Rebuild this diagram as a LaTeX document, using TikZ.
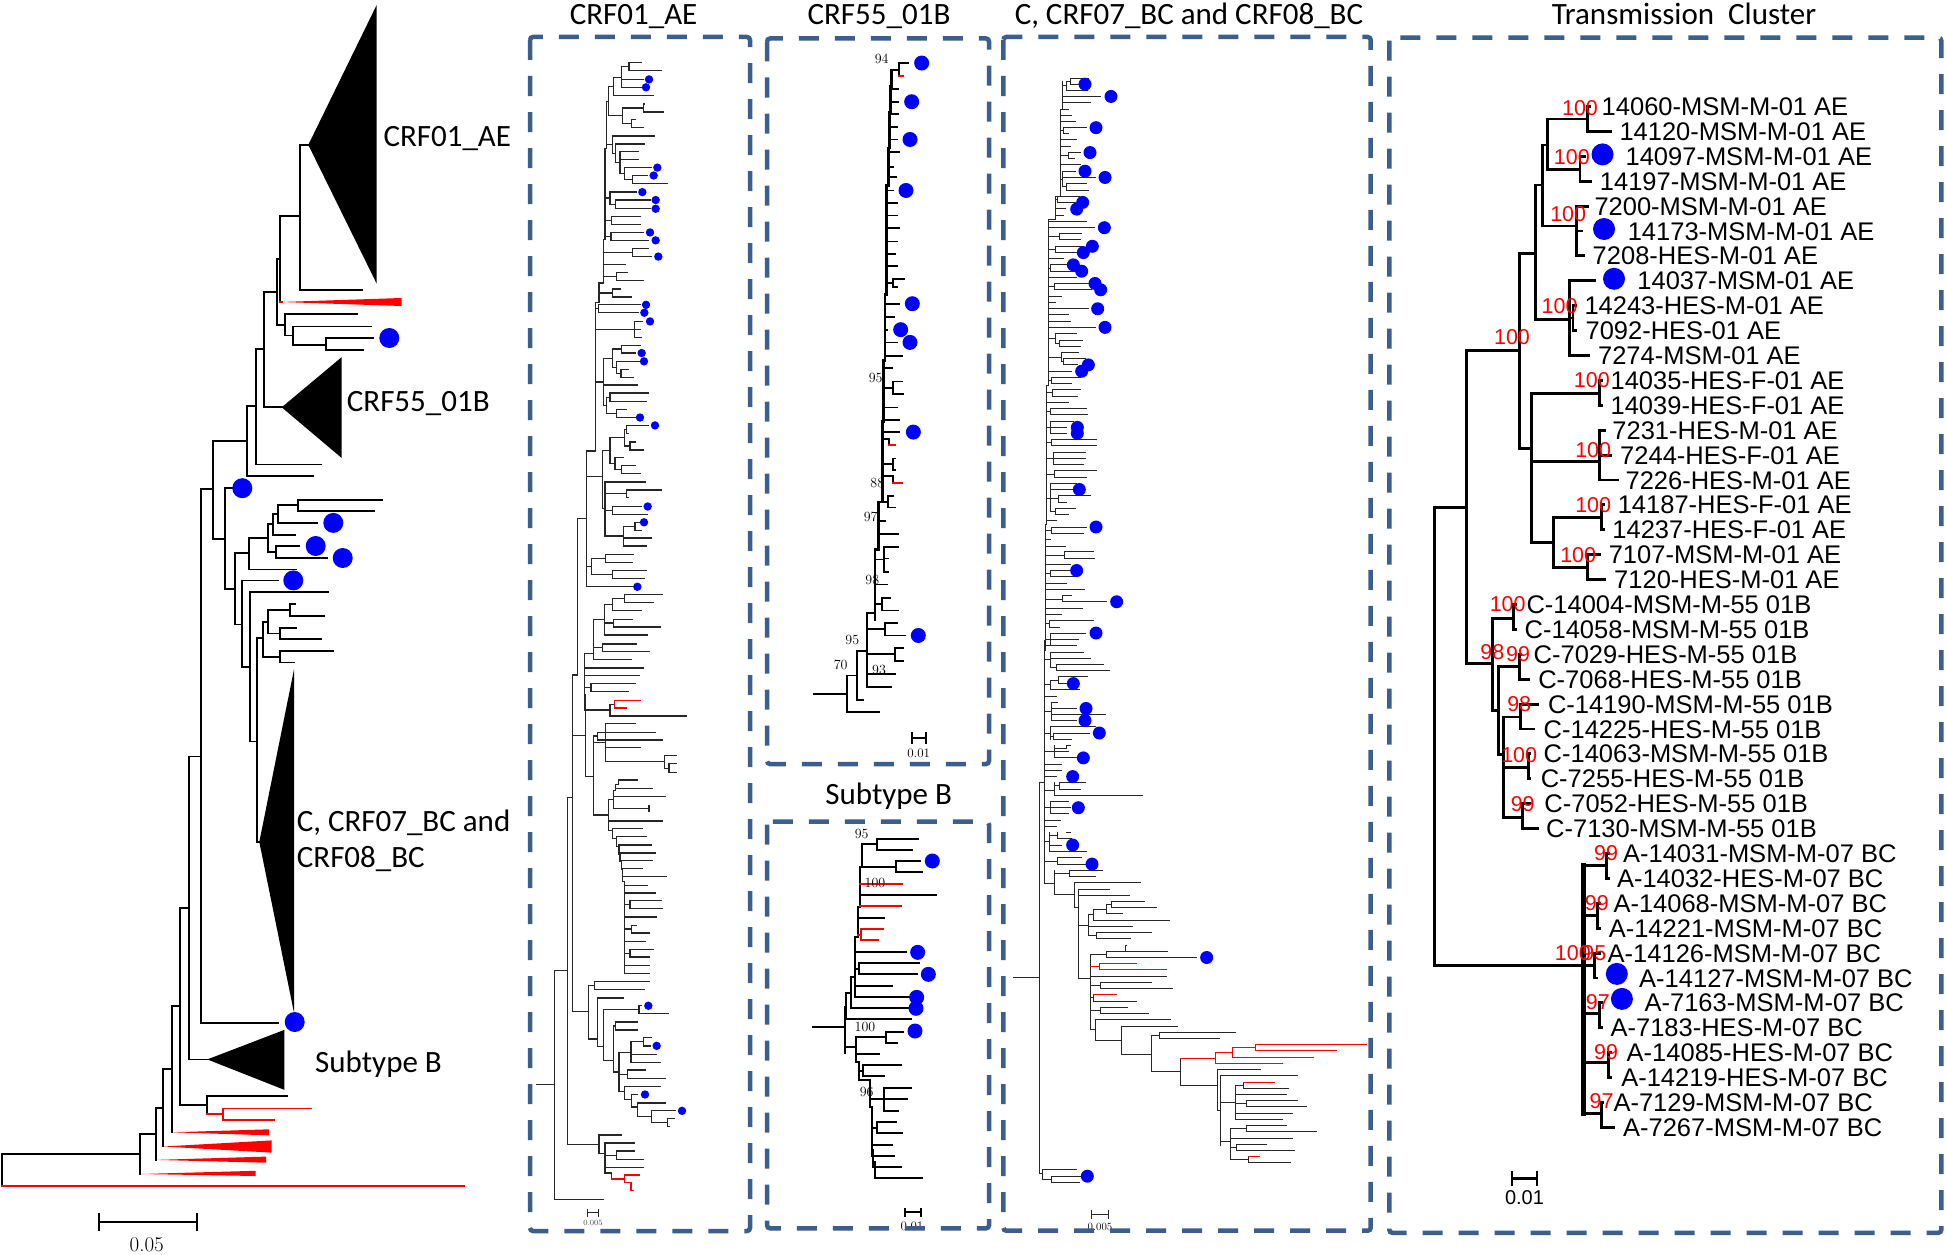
\documentclass[tikz,border=0pt]{standalone}
\usepackage{fontspec}
\newfontfamily\cali{Carlito}
\newfontfamily\ari{Liberation Sans}
\definecolor{boxc}{RGB}{59,94,140}
\definecolor{dotc}{RGB}{0,0,255}
\definecolor{redc}{RGB}{255,0,0}
\newcommand\hsegs[1]{\foreach \yy/\xa/\xb in {#1}{\draw (\xa,\yy) -- (\xb,\yy);}}
\newcommand\vsegs[1]{\foreach \xx/\ya/\yb in {#1}{\draw (\xx,\ya) -- (\xx,\yb);}}
\newcommand\bdots[2]{\foreach \xx/\yy in {#2}{\fill[dotc] (\xx,\yy) circle[radius=#1];}}
\tikzset{
  dbox/.style={draw=boxc, line width=4.5pt, dash pattern=on 20pt off 16pt, rounded corners=3pt},
  ttl/.style={anchor=base, inner sep=0pt, font=\cali\fontsize{31}{31}\selectfont},
  ttlw/.style={anchor=base west, inner sep=0pt, font=\cali\fontsize{31}{31}\selectfont},
  lab/.style={anchor=base west, inner sep=0pt, font=\ari\fontsize{25.5}{25.5}\selectfont},
  boot/.style={inner sep=0pt, text=redc, font=\ari\fontsize{21.5}{21.5}\selectfont},
  bs/.style={inner sep=0pt, font=\fontsize{14}{14}\selectfont},
  sclab/.style={inner sep=0pt, font=\fontsize{13}{13}\selectfont},
}
\begin{document}
\begin{tikzpicture}[x=1pt,y=-1pt]
\useasboundingbox (0,0) rectangle (1946,1255);
\fill[white] (0,0) rectangle (1946,1255);

%================ LEFT TREE =================
\begin{scope}[line width=1.8pt, line cap=rect]
\hsegs{144.9/300/308.3, 289.8/300/361.7, 216.3/280/300, 259.2/277.3/280, 291.8/264/277.3, 325.3/277.3/285, 314.3/285/356.7, 335.5/285/292.7, 326.5/292.7/370.7, 344.9/292.7/325.7, 338/325.7/373.3, 349.8/325.7/363.3, 407.3/264/281.7, 349/256/264, 464.5/256/320.7, 406/247.3/256, 476.3/247.3/312.7, 440.8/213.3/247.3, 488.6/200.7/213.3, 538.8/213.3/225, 488/225/232, 588.6/225/235, 553/235/249.3, 538/249.3/267.7, 523.7/267.7/273.3, 514.3/273.3/278.3, 505.3/278.3/297.7, 499.6/297.7/381.7, 511/297.7/374, 522.9/278.3/316.7, 534.7/273.3/295, 552.2/267.7/276, 546/276/299.3, 558/276/326.7, 569.4/249.3/295.7, 624.5/235/241.7, 580.4/241.7/277.7, 666.6/241.7/250, 591.8/250/327.7, 741.5/250/256.7, 638.2/256.7/263.3, 841.9/256.7/259.3, 622/263.3/268.3, 656.9/263.3/280, 610.2/268.3/290, 604/290/295, 616.3/290/324, 633.4/268.3/280, 627.9/280/295.7, 638.9/280/320.7, 651.2/280/332.7, 662.5/280/294, 756.5/189/200.7, 1022.8/200.7/278.3, 1059.4/189/207.3, 907.6/180/189, 1105.2/180/207.3, 1096.3/207.3/287.3, 1006/171.7/180, 1068.8/163.3/171.7, 1108/155.7/163.3, 1133.6/140/155.7, 1153.8/2.3/140, 1222.3/99/196.7}
\vsegs{300/144.9/289.8, 280/216.3/302, 277.3/259.2/325.3, 285/314.3/335.5, 292.7/326.5/344.9, 325.7/338/349.8, 264/291.8/407.3, 256/349/464.5, 247.3/406/476.3, 213.3/440.8/538.8, 200.7/488.6/1022.8, 225/488/588.6, 235/553/624.5, 249.3/538/569.4, 267.7/523.7/552.2, 273.3/514.3/534.7, 278.3/505.3/522.9, 297.7/499.6/511, 276/546/558, 241.7/580.4/666.6, 250/591.8/741.5, 256.7/638.2/841.9, 263.3/622/656.9, 268.3/610.2/633.4, 290/604/616.3, 280/627.9/638.9, 280/651.2/662.5, 189/756.5/1059.4, 180/907.6/1105.2, 207.3/1096.3/1114.1, 171.7/1006/1132.3, 163.3/1068.8/1146.5, 155.7/1108/1159.9, 140/1133.6/1174, 2.3/1153.8/1185.8, 99/1214/1230, 196.7/1214/1230}
\begin{scope}[draw=redc]
\hsegs{1114.1/207.3/223.3, 1108.4/223.3/310.7, 1120.2/223.3/274.3, 1185.8/2.3/464.3, 302/280/282}
\vsegs{223.3/1108.4/1120.2}
\end{scope}
\end{scope}
\fill (308.3,144.9) -- (376.7,4.9) -- (376.7,283.7) -- cycle;
\fill (281.7,407.3) -- (341.7,357.1) -- (341.7,458) -- cycle;
\fill (259.3,841.9) -- (294,669.4) -- (294,1012.7) -- cycle;
\fill (207.3,1059.4) -- (284.3,1029.9) -- (284.3,1089.8) -- cycle;
\fill[redc] (281,302) -- (401.7,298) -- (401.7,306) -- cycle;
\fill[redc] (171.7,1132.3) -- (269,1129.3) -- (269,1135.3) -- cycle;
\fill[redc] (163.3,1146.5) -- (271.7,1140.4) -- (271.7,1152.6) -- cycle;
\fill[redc] (155.7,1159.9) -- (266,1156.6) -- (266,1162.7) -- cycle;
\fill[redc] (140,1174) -- (255.7,1170.8) -- (255.7,1176) -- cycle;
\bdots{10pt}{389.3/338, 242.3/488.2, 333.3/522.9, 315.7/546, 342.7/558, 293.3/580.4, 294.7/1022}
\node[ttlw] (G1) at (383.3,146.9) {CRF01\_AE};
\node[ttlw] (G2) at (346.7,411.4) {CRF55\_01B};
\node[ttlw] (G3) at (296.7,831.4) {C, CRF07\_BC and};
\node[ttlw] (G4) at (296.7,867.9) {CRF08\_BC};
\node[ttlw] (G5) at (315,1072.8) {Subtype B};
\node[inner sep=0pt, font=\fontsize{21}{21}\selectfont] (G6) at (146.7,1245) {0.05};

%================ CRF01_AE PANEL =================
\begin{scope}[shift={(525,30)}, x=0.33333pt, y=-0.39541pt, line width=1.3pt, line cap=rect, draw=black!85]
\hsegs{83/312/348, 103/312/408, 93/290/312, 125/290/355, 145/290/350, 120/265/290, 165/265/385, 143/250/265, 187/355/358, 207/355/415, 197/292/355, 227/320/330, 247/320/355, 237/292/320, 217/250/292, 180/245/250, 268/262/388, 288/272/358, 308/285/340, 328/285/340, 348/298/378, 368/323/368, 388/323/428, 378/298/323, 363/285/298, 335/272/285, 312/262/272, 290/245/262, 410/255/335, 430/272/375, 452/272/375, 441/255/272, 425/240/255, 472/260/345, 492/260/345, 482/240/260, 512/258/355, 532/258/370, 522/240/258, 552/322/370, 573/322/380, 562/235/322, 593/235/302, 613/275/308, 633/275/355, 623/235/275, 655/262/285, 675/262/318, 665/222/262, 695/220/345, 715/220/340, 705/212/220, 737/328/352, 757/328/345, 777/328/348, 757/212/328, 797/290/345, 817/290/330, 807/262/290, 838/275/345, 858/288/310, 878/288/325, 868/275/288, 853/262/275, 830/235/262, 898/235/338, 918/255/370, 940/255/365, 929/245/255, 960/275/305, 980/275/330, 970/245/275, 950/235/245, 890/212/235, 1000/305/370, 1020/305/310, 1010/298/305, 1042/315/330, 1062/315/355, 1052/298/315, 1031/255/298, 1082/270/295, 1102/290/332, 1122/290/345, 1112/270/290, 1097/255/270, 1064/232/255, 1143/240/362, 1163/305/410, 1183/305/310, 1173/240/305, 1205/262/350, 1225/262/368, 1215/240/262, 1245/330/345, 1265/330/348, 1255/295/330, 1285/295/380, 1305/295/365, 1280/240/295, 1210/232/240, 1130/185/232, 1065/185/212, 1327/242/325, 1347/242/322, 1337/200/242, 1367/262/365, 1387/262/358, 1377/200/262, 1357/185/200, 1408/185/325, 1235/158/185, 1428/298/412, 1448/298/385, 1438/262/298, 1468/262/348, 1453/238/262, 1490/265/322, 1510/265/405, 1500/238/265, 1530/238/368, 1490/205/238, 300/240/245, 530/235/240, 640/222/235, 690/212/222}
\vsegs{312/83/103, 290/93/145, 265/120/165, 355/187/207, 320/227/247, 292/197/237, 250/143/217, 323/368/388, 298/348/378, 285/308/363, 272/288/335, 262/268/312, 272/430/452, 255/410/441, 260/472/492, 258/512/532, 322/552/573, 275/613/633, 262/655/675, 220/695/715, 328/737/777, 290/797/817, 288/858/878, 275/838/868, 262/807/853, 255/918/940, 275/960/980, 245/929/970, 235/830/950, 305/1000/1020, 315/1042/1062, 298/1010/1052, 290/1102/1122, 270/1082/1112, 255/1031/1097, 232/1064/1210, 305/1163/1183, 262/1205/1225, 330/1245/1265, 295/1255/1305, 240/1143/1280, 242/1327/1347, 262/1367/1387, 200/1337/1377, 298/1428/1448, 262/1438/1468, 265/1490/1510, 238/1453/1530, 245/180/300, 240/300/530, 235/530/640, 222/640/690, 212/690/1065, 185/1065/1408, 158/1235/1568, 205/1490/1568}
\bdots{4.2pt}{372/125, 363/145, 397/348, 386/368, 352/410, 392/430, 392/452, 375/512, 392/532, 400/573, 363/695, 358/715, 375/737, 350/817, 357/838, 345/980, 390/1000, 368/1205, 357/1245, 337/1408}
\end{scope}
\begin{scope}[shift={(525,640)}, x=0.33333pt, y=-0.38911pt, line width=1.3pt, line cap=rect, draw=black!85]
\hsegs{10/232/335, 30/232/372, 20/205/232, 50/205/318, 35/178/205, 72/178/355, 92/178/342, 112/198/330, 133/198/310, 122/178/198, 165/255/268, 195/255/485, 180/178/255, 140/178/182, 215/242/330, 237/218/392, 257/218/412, 247/205/218, 277/242/345, 313/242/418, 264/205/242, 297/418/455, 330/418/432, 318/432/455, 340/432/455, 350/182/205, 245/143/182, 90/143/158, 405/128/143, 360/280/338, 382/272/382, 371/272/280, 402/265/422, 386/265/272, 433/265/372, 410/250/265, 465/250/412, 450/205/250, 485/262/352, 505/275/365, 527/282/378, 547/285/392, 567/290/382, 588/292/352, 608/292/424, 630/298/368, 650/298/392, 670/315/410, 690/315/412, 680/298/315, 712/298/395, 733/320/335, 753/320/372, 743/298/320, 775/298/362, 795/315/385, 815/315/372, 805/298/315, 837/298/372, 857/298/372, 490/250/262, 510/262/275, 530/275/282, 550/282/285, 570/285/290, 590/290/292, 620/292/298, 955/143/190, 888/190/208, 878/208/372, 898/208/358, 920/218/295, 1025/190/218, 1045/218/235, 950/235/342, 940/342/350, 960/342/430, 1080/235/265, 992/265/272, 982/272/338, 1002/272/338, 1110/265/282, 1060/282/318, 1032/318/355, 1022/355/380, 1043/355/375, 1065/318/395, 1085/318/405, 1116/282/308, 1105/308/360, 1127/308/422, 1160/282/298, 1147/298/405, 1180/298/320, 1168/320/338, 1200/320/338, 1190/338/420, 1225/338/380, 1210/380/452, 1240/380/428, 1230/428/448, 1250/428/432, 1297/128/222, 1272/222/290, 1320/222/240, 1293/240/328, 1324/240/275, 1313/275/328, 1335/275/355, 1355/240/355, 1370/240/260, 850/88/128, 1437/88/235, 1143/35/88, 1472/188/220}
\vsegs{232/10/30, 205/0/50, 178/35/180, 198/112/133, 255/165/195, 182/140/350, 158/0/90, 143/90/955, 218/237/257, 242/215/313, 205/247/450, 418/297/330, 432/318/340, 280/360/371, 272/371/386, 265/386/433, 372/425/441, 250/410/490, 262/485/510, 275/505/530, 282/527/550, 285/547/570, 290/567/590, 292/588/620, 298/620/857, 315/670/690, 320/733/753, 315/795/815, 128/405/1297, 88/850/1437, 190/888/1025, 208/878/898, 218/920/1045, 235/950/1080, 342/940/960, 265/992/1110, 272/982/1002, 282/1060/1160, 318/1032/1085, 355/1022/1043, 308/1105/1127, 298/1147/1180, 320/1168/1200, 338/1190/1225, 380/1210/1240, 428/1230/1250, 222/1272/1320, 240/1293/1370, 275/1313/1335, 260/1370/1385, 188/1464/1480, 220/1464/1480}
\begin{scope}[draw=redc]
\hsegs{155/268/345, 175/268/303, 1385/260/298, 1375/298/342, 1395/298/318, 1415/318/326}
\vsegs{268/155/175, 298/1375/1395, 318/1395/1415}
\end{scope}
\bdots{4.2pt}{370/940, 395/1043, 360/1168, 471/1210}
\node[inner sep=0pt, text=black!70, font=\fontsize{8}{8}\selectfont] (S1) at (204,1497) {0.005};
\end{scope}

%================ CRF55_01B PANEL =================
\begin{scope}[shift={(760,30)}, x=0.33333pt, y=-0.47192pt, line width=1.8pt, line cap=rect]
\draw[line width=2.8pt] (395,85)--(395,120)--(392,120)--(392,175)--(388,175)--(388,250)--(385,250)--(385,330)--(380,330)--(380,560)--(375,560)--(375,700)--(370,700)--(370,830)--(368,830)--(368,1000)--(355,1000)--(355,1100)--(345,1100)--(345,1250);
\hsegs{70/418/445, 125/395/415, 152/392/415, 178/392/415, 205/388/412, 232/388/410, 258/388/418, 290/385/398, 312/385/408, 340/380/398, 366/380/412, 393/380/412, 420/380/418, 448/380/410, 475/380/405, 500/380/410, 527/398/432, 545/398/412, 536/380/398, 580/375/418, 608/375/402, 635/375/382, 662/375/410, 690/375/425, 717/370/395, 745/398/425, 772/398/428, 758/370/398, 800/370/412, 827/370/418, 852/368/418, 866/368/388, 908/398/405, 932/398/405, 920/368/398, 945/368/400, 988/385/398, 1012/385/405, 1000/368/385, 1040/355/375, 1068/355/415, 1095/372/415, 1120/372/385, 1148/372/385, 1122/345/372, 1175/345/380, 1203/365/390, 1230/365/415, 1216/345/365, 1257/375/412, 1283/375/435, 1270/322/375, 1310/405/428, 1337/405/428, 1323/322/405, 1365/322/405, 1392/322/392, 1420/290/310, 1445/260/358, 1316/290/322, 1368/260/290, 1407/162/260, 85/395/418, 1235/322/345, 1500/455/497}
\vsegs{418/70/97, 398/527/545, 398/745/772, 388/866/880, 398/908/932, 400/945/960, 385/988/1012, 372/1095/1148, 365/1203/1230, 375/1257/1283, 405/1310/1337, 322/1235/1392, 290/1316/1420, 260/1368/1445, 455/1490/1510, 497/1490/1510}
\begin{scope}[draw=redc]
\hsegs{97/418/430, 880/388/405, 960/400/425}
\end{scope}
\bdots{7.5pt}{485/70, 455/152, 450/232, 438/340, 457/580, 422/635, 450/662, 460/852, 475/1283}
\foreach \xx/\yy/\tt [count=\i] in {365/62/94, 347/737/95, 352/960/88, 332/1032/97, 337/1165/98, 357/1357/93, 277/1293/95, 242/1345/70}
  {\node[bs] (C\i) at (\xx,\yy) {\tt};}
\node[sclab] (C9) at (476,1533) {0.01};
\end{scope}

%================ SUBTYPE B PANEL =================
\begin{scope}[shift={(760,760)}, x=0.33333pt, y=-0.33333pt, line width=1.8pt, line cap=rect]
\draw (305,253)--(305,320)--(300,320)--(300,440)--(295,440)--(295,530)--(285,530)--(285,712);
\hsegs{236/352/475, 270/352/455, 253/305/352, 303/408/480, 337/408/485, 320/300/408, 406/300/528, 473/295/372, 577/285/438, 610/298/478, 643/298/470, 627/285/298, 678/285/397, 712/285/448, 745/272/445, 778/258/452, 650/272/285, 700/258/272, 740/255/258, 860/255/288, 815/378/428, 848/378/410, 832/288/378, 882/288/358, 905/288/298, 915/310/422, 948/310/372, 932/298/310, 960/298/330, 985/372/452, 1018/372/440, 1052/372/415, 1018/330/372, 1040/330/335, 1085/350/408, 1120/350/425, 1103/335/350, 1155/335/395, 1188/335/403, 1170/335/340, 1222/340/422, 1205/340/345, 1255/345/487, 800/160/255, 1357/435/482}
\vsegs{352/236/270, 408/303/337, 298/610/643, 272/650/745, 258/700/778, 255/740/880, 378/815/848, 288/832/905, 298/905/960, 310/915/948, 372/985/1052, 330/960/1040, 350/1085/1120, 335/1040/1188, 340/1170/1222, 345/1205/1255, 435/1347/1367, 482/1347/1367}
\begin{scope}[draw=redc]
\hsegs{372/300/425, 438/300/422, 508/303/370, 541/303/355, 525/295/303}
\vsegs{303/508/541}
\end{scope}
\bdots{7.5pt}{517/303, 473/577, 505/643, 470/712, 468/745, 465/813}
\foreach \xx/\yy/\tt [count=\i] in {305/222/95, 345/368/100, 315/800/100, 320/995/96}
  {\node[bs] (D\i) at (\xx,\yy) {\tt};}
\node[sclab] (D5) at (456,1398) {0.01};
\end{scope}

%================ C, CRF07_BC, CRF08_BC PANEL =================
\begin{scope}[shift={(1000,30)}, x=0.33333pt, y=-0.39541pt, line width=1pt, line cap=rect, draw=black!85]
\vsegs{188/130/200, 180/200/420, 165/420/480, 145/480/900, 140/900/1250, 136/1250/1568, 212/122/137, 200/130/152, 190/247/262, 205/310/325, 188/357/397, 198/389/405, 172/420/436, 165/452/468, 178/515/531, 165/547/563, 152/594/610, 162/641/657, 165/768/792, 178/784/800, 185/815/839, 190/831/847, 155/878/894, 158/910/926, 152/957/973, 152/989/1020, 155/1036/1052, 160/1068/1099, 162/1115/1131, 150/1147/1218, 175/1178/1194, 165/1210/1225, 155/1257/1273, 192/1320/1336, 150/1367/1383, 188/1431/1446, 148/1494/1510, 150/1525/1557}
\hsegs{200/180/188, 420/165/180, 480/145/165, 900/140/145, 1250/136/140, 122/212/265, 137/212/240, 130/200/212, 152/200/262, 141/188/200, 168/188/300, 184/188/272, 200/180/205, 215/180/215, 231/180/225, 247/190/258, 262/190/205, 255/180/190, 278/180/230, 294/180/212, 310/205/240, 325/205/222, 318/180/205, 341/180/240, 357/188/225, 373/188/285, 389/198/258, 405/198/265, 397/188/198, 377/180/188, 420/172/237, 436/172/232, 428/165/172, 452/165/195, 468/165/190, 484/145/260, 500/145/282, 515/178/245, 531/178/240, 523/145/178, 547/165/250, 563/165/232, 555/145/165, 578/145/190, 594/152/200, 610/152/225, 602/145/152, 626/145/230, 641/162/268, 657/162/275, 649/145/162, 673/145/185, 689/145/165, 705/145/265, 720/145/205, 736/145/210, 752/145/285, 768/165/228, 784/178/248, 800/178/242, 792/165/178, 780/145/165, 815/185/235, 831/190/255, 847/190/232, 839/185/190, 827/145/185, 863/145/215, 878/155/240, 894/155/215, 886/145/155, 910/158/240, 926/158/232, 918/140/158, 941/140/205, 957/152/258, 973/152/262, 965/140/152, 989/152/220, 1005/152/200, 1020/152/200, 1004/140/152, 1036/155/290, 1052/155/290, 1044/140/155, 1068/160/255, 1084/160/255, 1099/160/250, 1083/140/160, 1115/162/290, 1131/162/260, 1123/140/162, 1147/150/230, 1162/150/235, 1178/175/270, 1194/175/200, 1186/150/175, 1210/165/225, 1225/165/205, 1218/150/165, 1186/140/150, 1241/140/170, 1257/155/258, 1273/155/250, 1265/136/155, 1289/136/150, 1305/136/195, 1320/192/280, 1336/192/282, 1328/136/192, 1352/136/210, 1367/150/208, 1383/150/228, 1375/136/150, 1399/136/200, 1415/136/252, 1431/188/215, 1446/188/320, 1439/136/188, 1462/136/248, 1478/136/185, 1494/148/280, 1510/148/178, 1502/136/148, 1525/150/255, 1541/150/235, 1557/150/230, 1541/136/150}
\bdots{6.5pt}{255/137, 333/168, 288/247, 270/310, 255/357, 315/373, 248/436, 230/453, 313/500, 277/547, 250/563, 220/594, 245/610, 285/641, 302/657, 293/705, 315/752, 265/847, 245/863, 232/1005, 232/1020, 238/1162, 288/1257, 230/1367, 350/1446, 288/1525}
\end{scope}
\begin{scope}[shift={(1000,640)}, x=0.33333pt, y=-0.38911pt, line width=1pt, line cap=rect, draw=black!85]
\vsegs{134/0/625, 118/365/1370, 150/31/71, 170/63/79, 175/95/112, 150/103/128, 155/160/207, 150/223/255, 160/239/255, 162/271/303, 198/271/279, 178/367/383, 162/367/399, 150/415/447, 172/495/511, 148/495/543, 172/560/576, 162/592/655, 208/592/608, 222/624/688, 235/640/870, 265/706/760, 335/672/688, 320/680/704, 280/692/720, 288/752/768, 270/808/1000, 375/786/800, 320/800/816, 302/880/896, 280/912/928, 300/944/960, 285/976/1030, 365/992/1065, 455/1016/1110, 478/1008/1024, 542/1075/1145, 652/1104/1210, 662/1120/1300, 730/1136/1152, 705/1144/1232, 738/1184/1200, 690/1256/1336, 740/1248/1264, 710/1296/1312, 745/1328/1344, 128/1362/1386, 155/1378/1394, 275/1467/1487, 325/1467/1487}
\hsegs{365/118/134, 868/40/118, 15/134/228, 31/150/250, 47/150/270, 71/150/170, 63/170/310, 79/170/328, 51/134/150, 95/175/262, 112/175/205, 103/150/175, 128/150/238, 115/134/150, 144/134/168, 160/155/172, 176/155/230, 191/155/315, 207/155/228, 183/134/155, 223/150/285, 239/160/268, 255/160/215, 247/150/160, 239/134/150, 271/198/212, 287/162/205, 303/162/240, 279/162/198, 287/134/162, 319/134/185, 335/134/185, 351/134/170, 367/178/255, 383/178/240, 375/162/178, 399/162/428, 387/134/162, 415/150/205, 431/150/210, 447/150/205, 431/134/150, 463/134/180, 479/134/168, 495/198/212, 511/172/215, 503/148/172, 527/148/185, 543/148/260, 519/134/148, 560/172/245, 576/172/290, 568/134/172, 625/134/162, 592/208/308, 608/208/285, 600/162/208, 655/162/222, 624/222/420, 688/222/235, 640/235/328, 656/235/388, 733/235/265, 706/265/280, 672/335/432, 688/335/470, 680/320/335, 704/320/368, 692/280/320, 720/280/508, 736/265/398, 760/265/288, 752/288/455, 768/288/392, 870/235/270, 808/270/320, 800/375/502, 786/375/380, 800/320/375, 816/320/590, 864/270/500, 888/270/302, 880/302/455, 896/302/517, 920/270/280, 928/280/408, 952/270/300, 944/300/383, 960/300/445, 1000/270/285, 976/285/510, 1030/285/365, 992/365/533, 1065/365/455, 1016/455/478, 1008/478/706, 1024/478/658, 1110/455/542, 1145/542/652, 1104/652/780, 1210/652/662, 1120/662/893, 1188/662/705, 1152/730/865, 1144/705/730, 1168/705/860, 1184/738/892, 1200/738/920, 1192/705/738, 1216/705/878, 1232/705/847, 1290/662/690, 1248/740/858, 1264/740/948, 1256/690/740, 1280/690/878, 1296/710/798, 1312/710/882, 1304/690/710, 1344/745/872, 1336/690/745, 1370/118/128, 1362/128/228, 1378/155/242, 1394/155/238, 1386/128/155, 1477/275/325}
\begin{scope}[draw=redc]
\hsegs{840/270/298, 832/298/410, 848/298/498, 912/280/350, 1075/542/645, 1060/645/698, 1088/645/847, 1048/698/765, 1072/698/940, 1040/765/1098, 1056/765/1008, 1136/730/823, 1328/745/778}
\vsegs{298/832/848, 645/1060/1088, 698/1048/1072, 765/1040/1056}
\end{scope}
\bdots{6.5pt}{220/112, 258/176, 255/207, 298/239, 250/303, 218/351, 235/431, 218/527, 276/576, 620/816, 262/1378}
\node[sclab, font=\fontsize{11}{11}\selectfont] (E1) at (300,1508) {0.005};
\end{scope}

%================ TRANSMISSION CLUSTER =================
\begin{scope}[line width=2.9pt, line cap=rect]
\hsegs{507.6/1434.4/1466.6, 965.5/1434.4/1594.3, 350.7/1466.6/1519.2, 663.5/1466.6/1492.3, 253.1/1519.2/1535.3, 448.3/1519.2/1531.7, 185/1535.3/1542.4, 319.7/1535.3/1569.3, 145/1542.4/1547.8, 226/1542.4/1576.4, 119/1547.8/1587.1, 169.7/1547.8/1580, 106.5/1587.1/1590, 131.4/1587.1/1610.4, 156.3/1580/1585, 181.2/1580/1590.7, 206.1/1576.4/1587.1, 231/1576.4/1582, 255.9/1576.4/1583.6, 280.8/1569.3/1594.3, 318/1569.3/1573, 305.7/1573/1576, 330.6/1573/1576, 355.5/1569.3/1589, 393.6/1531.7/1599.7, 461.7/1531.7/1599.7, 542.8/1531.7/1553.2, 380.4/1599.7/1602, 405.3/1599.7/1602, 430.2/1599.7/1605, 455.1/1599.7/1610.4, 480/1599.7/1617.6, 517.9/1553.2/1601.5, 567.7/1553.2/1587.1, 504.9/1601.5/1604, 529.8/1601.5/1604, 554.7/1587.1/1599.7, 579.6/1587.1/1605, 618.8/1492.3/1513.8, 710.7/1492.3/1498.8, 604.5/1513.8/1516, 629.4/1513.8/1516, 666.8/1498.8/1519.2, 754.6/1498.8/1503.1, 654.3/1519.2/1521, 679.2/1519.2/1528.1, 717/1503.1/1520.2, 767.1/1503.1/1528.1, 817.2/1503.1/1522.7, 704.1/1520.2/1537.1, 729/1520.2/1533.5, 753.9/1528.1/1530, 778.8/1528.1/1530, 803.7/1522.7/1530, 828.6/1522.7/1537.1, 865.2/1583.6/1606.8, 853.5/1606.8/1609, 878.4/1606.8/1609, 915.4/1583.6/1597.9, 903.3/1597.9/1600, 928.2/1597.9/1600, 953.1/1594.3/1600, 978/1594.3/1597, 1013.5/1583.6/1599.7, 1002.9/1599.7/1602, 1027.8/1599.7/1602, 1062.8/1583.6/1608.6, 1052.7/1608.6/1611, 1077.6/1608.6/1611, 1113.8/1583.6/1601.5, 1102.5/1601.5/1603, 1127.4/1601.5/1614, 1178.5/1512/1537}
\vsegs{1434.4/507.6/965.5, 1466.6/350.7/663.5, 1519.2/253.1/448.3, 1535.3/185/319.7, 1542.4/145/226, 1547.8/119/169.7, 1587.1/106.5/131.4, 1580/156.3/181.2, 1576.4/206.1/255.9, 1569.3/280.8/355.5, 1573/305.7/330.6, 1531.7/393.6/542.8, 1599.7/380.4/405.3, 1599.7/430.2/480, 1553.2/517.9/567.7, 1601.5/504.9/529.8, 1587.1/554.7/579.6, 1492.3/618.8/710.7, 1513.8/604.5/629.4, 1498.8/666.8/754.6, 1519.2/654.3/679.2, 1503.1/717/817.2, 1520.2/704.1/729, 1528.1/753.9/778.8, 1522.7/803.7/828.6, 1606.8/853.5/878.4, 1597.9/903.3/928.2, 1594.3/953.1/978, 1599.7/1002.9/1027.8, 1608.6/1052.7/1077.6, 1601.5/1102.5/1127.4, 1512/1172/1185, 1537/1172/1185}
\draw[line width=4.5pt] (1583.6,865.2) -- (1583.6,1113.8);
\end{scope}
\bdots{11pt}{1602.5/154.4, 1604/229, 1614/278.8, 1616.8/973.9, 1621.9/998.9}
\foreach \xx/\tt [count=\i] in {1601.5/14060-MSM-M-01 AE, 1619.3/14120-MSM-M-01 AE, 1625.4/14097-MSM-M-01 AE, 1599.7/14197-MSM-M-01 AE, 1594.3/7200-MSM-M-01 AE, 1627.6/14173-MSM-M-01 AE, 1592.5/7208-HES-M-01 AE, 1637.2/14037-MSM-01 AE, 1584.3/14243-HES-M-01 AE, 1585.4/7092-HES-01 AE, 1597.9/7274-MSM-01 AE, 1610.4/14035-HES-F-01 AE, 1610.4/14039-HES-F-01 AE, 1612.2/7231-HES-M-01 AE, 1620/7244-HES-F-01 AE, 1625.4/7226-HES-M-01 AE, 1617.6/14187-HES-F-01 AE, 1612.2/14237-HES-F-01 AE, 1608.6/7107-MSM-M-01 AE, 1614/7120-HES-M-01 AE, 1526.3/C-14004-MSM-M-55 01B, 1524.5/C-14058-MSM-M-55 01B, 1533.5/C-7029-HES-M-55 01B, 1538.1/C-7068-HES-M-55 01B, 1547.8/C-14190-MSM-M-55 01B, 1543.5/C-14225-HES-M-55 01B, 1543.5/C-14063-MSM-M-55 01B, 1540.6/C-7255-HES-M-55 01B, 1544.2/C-7052-HES-M-55 01B, 1546/C-7130-MSM-M-55 01B, 1622.9/A-14031-MSM-M-07 BC, 1616.8/A-14032-HES-M-07 BC, 1613.3/A-14068-MSM-M-07 BC, 1608.6/A-14221-MSM-M-07 BC, 1607.5/A-14126-MSM-M-07 BC, 1639/A-14127-MSM-M-07 BC, 1644.4/A-7163-MSM-M-07 BC, 1610.4/A-7183-HES-M-07 BC, 1626.5/A-14085-HES-M-07 BC, 1621.1/A-14219-HES-M-07 BC, 1613.3/A-7129-MSM-M-07 BC, 1622.9/A-7267-MSM-M-07 BC}
  {\node[lab] (L\i) at (\xx,{115.5+24.9*(\i-1)}) {\tt};}
\foreach \xx/\yy/\tt [count=\i] in {1580/108.5/100, 1571.8/157.4/100, 1568.2/213.7/100, 1559.6/306.3/100, 1512/337.3/100, 1591.8/380.2/100, 1593.2/449.8/100, 1593.2/505.3/100, 1578.2/555/100, 1507.7/604/100, 1492.3/652.2/98, 1518.1/654.3/99, 1519.2/704.4/98, 1519.2/754.6/100, 1522.7/803.8/99, 1606.1/852.7/99, 1596.8/902.8/99, 1572.8/953/100, 1594.3/953/95, 1597.9/1001.8/97, 1606.1/1052/99, 1601.5/1101.3/97}
  {\node[boot] (B\i) at (\xx,\yy) {\tt};}
\node[inner sep=0pt, font=\ari\fontsize{20}{20}\selectfont] (SC) at (1524.5,1198) {0.01};

%================ BOXES AND TITLES =================
\draw[dbox] (530,37) rectangle (750,1231);
\draw[dbox] (767,38.5) rectangle (989,764);
\draw[dbox] (767,821.7) rectangle (989,1228.3);
\draw[dbox] (1003.3,37) rectangle (1370.7,1230.7);
\draw[dbox] (1389.3,37.7) rectangle (1941.3,1232.8);
\node[ttl] (T1) at (633.6,25) {CRF01\_AE};
\node[ttl] (T2) at (879,25) {CRF55\_01B};
\node[ttl] (T3) at (1189,25) {C, CRF07\_BC and CRF08\_BC};
\node[ttl] (T4) at (1684,25) {Transmission\ \ Cluster};
\node[ttl] (T5) at (888.7,804) {Subtype B};
\end{tikzpicture}
\end{document}
